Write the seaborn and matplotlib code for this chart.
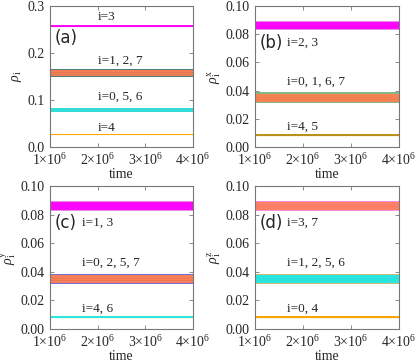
import numpy as np
import pandas as pd
import matplotlib
matplotlib.use("Agg")
import matplotlib.pyplot as plt
import seaborn as sns

sns.set_style("white")
plt.rcParams['font.family'] = ['Liberation Serif', 'DejaVu Serif']
plt.rcParams['mathtext.fontset'] = 'custom'
plt.rcParams['mathtext.rm'] = 'Liberation Serif'
plt.rcParams['mathtext.it'] = 'Liberation Serif:italic'
plt.rcParams['mathtext.bf'] = 'Liberation Serif:bold'

# ---------------- data ----------------
time_range = [1e6, 4e6]
xticks = [1e6, 2e6, 3e6, 4e6]
xtick_labels = [r'$\mathrm{1{\times}10^{6}}$', r'$\mathrm{2{\times}10^{6}}$',
                r'$\mathrm{3{\times}10^{6}}$', r'$\mathrm{4{\times}10^{6}}$']

# panel (a): rho_i
a_means = [0.258, 0.157, 0.157, 0.157, 0.079, 0.079, 0.079, 0.027]
a_spread = [0.0015, 0.009, 0.008, 0.0065, 0.005, 0.0045, 0.0038, 0.001]
a_colors = ['#ff00ff', '#1010d0', '#2e8b3a', '#ff7f50', '#e82020', '#d09020', '#22e8e8', '#ffa500']
a_labels = ['i=3', 'i=1, 2, 7', 'i=0, 5, 6', 'i=4']
a_label_y = [0.277, 0.184, 0.106, 0.040]
a_yticks = [0.0, 0.1, 0.2, 0.3]

# panel (b): rho_i^x
b_means = [0.086, 0.086, 0.035, 0.035, 0.0085, 0.0085]
b_spread = [0.0032, 0.0026, 0.0038, 0.0028, 0.0009, 0.0007]
b_colors = ['#d040d0', '#ff00ff', '#2e8b3a', '#ff7f50', '#ffa500', '#b8901a']
b_labels = ['i=2, 3', 'i=0, 1, 6, 7', 'i=4, 5']
b_label_y = [0.074, 0.046, 0.0145]
b_yticks = [0.00, 0.02, 0.04, 0.06, 0.08, 0.10]

# panel (c): rho_i^y
c_means = [0.086, 0.086, 0.035, 0.035, 0.0085, 0.0085]
c_spread = [0.0032, 0.0026, 0.0038, 0.0028, 0.0009, 0.0007]
c_colors = ['#d040d0', '#ff00ff', '#1010d0', '#ff7f50', '#ffa500', '#22e8e8']
c_labels = ['i=1, 3', 'i=0, 2, 5, 7', 'i=4, 6']
c_label_y = [0.074, 0.046, 0.0145]
c_yticks = [0.00, 0.02, 0.04, 0.06, 0.08, 0.10]

# panel (d): rho_i^z
d_means = [0.086, 0.086, 0.035, 0.035, 0.0085, 0.0085]
d_spread = [0.0034, 0.0027, 0.0038, 0.0028, 0.0009, 0.0007]
d_colors = ['#ff40c0', '#fa8060', '#a09020', '#22e8e8', '#e8a030', '#ffa500']
d_labels = ['i=3, 7', 'i=1, 2, 5, 6', 'i=0, 4']
d_label_y = [0.074, 0.046, 0.0145]
d_yticks = [0.00, 0.02, 0.04, 0.06, 0.08, 0.10]

fig = plt.figure(figsize=(4.15, 3.63), dpi=100)
W, H = 415, 363

def make_ax(left, top, right, bottom):
    return fig.add_axes([left / W, 1 - bottom / H, (right - left) / W, (bottom - top) / H])

panels = [
    (make_ax(50, 6, 193, 147), a_means, a_spread, a_colors, a_labels, a_label_y, 2.0e6, a_yticks,
     (0, 0.3), '(a)', 0.232, r'$\rho_{\mathrm{i}}$', '{:.1f}'),
    (make_ax(255, 6, 399, 147), b_means, b_spread, b_colors, b_labels, b_label_y, 1.67e6, b_yticks,
     (0, 0.1), '(b)', 0.074, r'$\rho_{\mathrm{i}}^{\mathrm{x}}$', '{:.2f}'),
    (make_ax(50, 186, 193, 329), c_means, c_spread, c_colors, c_labels, c_label_y, 1.67e6, c_yticks,
     (0, 0.1), '(c)', 0.074, r'$\rho_{\mathrm{i}}^{\mathrm{y}}$', '{:.2f}'),
    (make_ax(255, 186, 399, 329), d_means, d_spread, d_colors, d_labels, d_label_y, 1.67e6, d_yticks,
     (0, 0.1), '(d)', 0.074, r'$\rho_{\mathrm{i}}^{\mathrm{z}}$', '{:.2f}'),
]

for (ax, means, spread, colors, labels, label_y, label_x, yticks, ylim,
     tag, tag_y, ylabel, fmt) in panels:
    n = len(means)
    for k, (m, s, c) in enumerate(zip(means, spread, colors)):
        top_of_group = (k == n - 1) or (means[k + 1] != m)
        a = 0.95 if top_of_group else 0.6
        df = pd.DataFrame({'time': time_range, 'rho': [m, m]})
        ax.fill_between(df['time'], df['rho'] - s, df['rho'] + s, color=c, lw=0, alpha=a)
        sns.lineplot(data=df, x='time', y='rho', ax=ax, color=c, lw=0.8)
    for lab, ly in zip(labels, label_y):
        ax.text(label_x, ly, lab, fontsize=9.5, va='center', ha='left')
    ax.text(1.1e6, tag_y, tag, fontsize=12, va='center', ha='left', family='DejaVu Sans')
    ax.set_xlim(time_range)
    ax.set_ylim(ylim)
    ax.set_xticks(xticks)
    ax.set_xticklabels(xtick_labels, fontsize=10)
    ax.set_yticks(yticks)
    ax.set_yticklabels([fmt.format(v) for v in yticks], fontsize=10)
    ax.set_xlabel('time', fontsize=10, labelpad=0)
    ax.set_ylabel(ylabel, fontsize=10, labelpad=2)
    ax.tick_params(direction='in', length=3, width=0.6, color='#777777',
                   top=True, right=True, bottom=True, left=True)
    ax.tick_params(axis='x', pad=4)
    ax.tick_params(axis='y', pad=4)
    for sp in ax.spines.values():
        sp.set_color('#777777')
        sp.set_linewidth(0.8)

fig.savefig('out.png', dpi=100)
